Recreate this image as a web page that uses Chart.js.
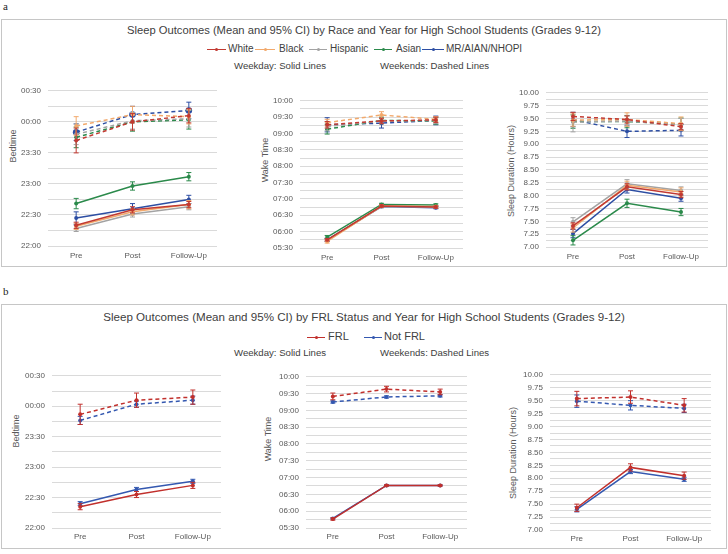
<!DOCTYPE html>
<html>
<head>
<meta charset="utf-8">
<script src="https://cdn.jsdelivr.net/npm/chart.js@4.4.0/dist/chart.umd.min.js"></script>
<style>
body { margin: 0; width: 728px; height: 554px; background: #fff; position: relative; overflow: hidden;
       font-family: "Liberation Sans", Arial, sans-serif; }
.box { position: absolute; border: 1.5px solid #c6c6c6; box-sizing: border-box; }
.t { position: absolute; white-space: nowrap; color: #404040; line-height: 1.2; }
.yt { position: absolute; white-space: nowrap; font-size: 9px; color: #595959; line-height: 1.2;
      transform: translate(-50%, -50%) rotate(-90deg); }
.lm { position: absolute; height: 1px; background: currentColor; }
.lm i { position: absolute; left: 50%; top: -1px; width: 3px; height: 3px; margin-left: -1.5px;
        background: currentColor; border-radius: 50%; }
canvas { position: absolute; }
</style>
</head>
<body>
<div class="t" style="left:3px;top:0px;font-family:'Liberation Serif',serif;font-size:11px;color:#222">a</div>
<div class="box" style="left:1px;top:19px;width:726px;height:248px"></div>
<div class="t" style="left:0;width:728px;text-align:center;top:24px;font-size:11.2px">Sleep Outcomes (Mean and 95% CI) by Race and Year for High School Students (Grades 9-12)</div>
<div id="legendA"></div>
<div class="t" style="left:234px;top:60px;font-size:9.6px">Weekday: Solid Lines</div>
<div class="t" style="left:380px;top:60px;font-size:9.6px">Weekends: Dashed Lines</div>
<div class="yt" style="left:13px;top:146px">Bedtime</div>
<div class="yt" style="left:265px;top:160px">Wake Time</div>
<div class="yt" style="left:511px;top:171px">Sleep Duration (Hours)</div>

<div class="t" style="left:3px;top:285px;font-family:'Liberation Serif',serif;font-size:11px;color:#222">b</div>
<div class="box" style="left:1px;top:304px;width:726px;height:245px"></div>
<div class="t" style="left:0;width:728px;text-align:center;top:310px;font-size:11.6px">Sleep Outcomes (Mean and 95% CI) by FRL Status and Year for High School Students (Grades 9-12)</div>
<div id="legendB"></div>
<div class="t" style="left:234px;top:347px;font-size:9.6px">Weekday: Solid Lines</div>
<div class="t" style="left:380px;top:347px;font-size:9.6px">Weekends: Dashed Lines</div>
<div class="yt" style="left:16px;top:431px">Bedtime</div>
<div class="yt" style="left:268px;top:439px">Wake Time</div>
<div class="yt" style="left:513px;top:453px">Sleep Duration (Hours)</div>

<script>
const categories = ['Pre', 'Post', 'Follow-Up'];
const raceGroups = ['White', 'Black', 'Hispanic', 'Asian', 'MR/AIAN/NHOPI'];
const frlGroups = ['FRL', 'Not FRL'];

// y-axis ranges (tick labels every 30 min / 0.25 h, grid every 15 min / 0.125 h)
const bedRange = ['22:00', '00:30'];
const wakeRange = ['05:30', '10:00'];
const sleepRange = [7, 10];

// Panel a: by race (rows follow raceGroups), CI = +/- half width
const bedWeekdayRace = [
  ['22:20', '22:35', '22:40'],
  ['22:19', '22:33', '22:40'],
  ['22:17', '22:31', '22:38'],
  ['22:41', '22:58', '23:07'],
  ['22:27', '22:36', '22:45']
];
const bedWeekdayRaceCI = [[3, 3, 3], [3, 3, 4], [3, 3, 3], [5, 4, 4], [6, 5, 4]];
const bedWeekendRace = [
  ['23:42', '00:00', '00:06'],
  ['23:56', '00:07', '00:05'],
  ['23:48', '00:01', '00:03'],
  ['23:45', '00:00', '00:02'],
  ['23:50', '00:07', '00:11']
];
const bedWeekendRaceCI = [[12, 8, 7], [9, 8, 7], [10, 8, 8], [10, 9, 9], [8, 8, 8]];

const wakeWeekdayRace = [
  ['05:45', '06:47', '06:45'],
  ['05:42', '06:47', '06:46'],
  ['05:44', '06:46', '06:45'],
  ['05:50', '06:50', '06:49'],
  ['05:45', '06:46', '06:44']
];
const wakeWeekdayRaceCI = [[2, 2, 2], [3, 2, 2], [2, 2, 2], [3, 2, 2], [3, 2, 2]];
const wakeWeekendRace = [
  ['09:16', '09:23', '09:25'],
  ['09:20', '09:34', '09:26'],
  ['09:13', '09:23', '09:24'],
  ['09:08', '09:24', '09:23'],
  ['09:16', '09:19', '09:24']
];
const wakeWeekendRaceCI = [[6, 5, 5], [6, 6, 5], [8, 5, 6], [9, 6, 6], [13, 9, 8]];

const sleepWeekdayRace = [[7.41, 8.17, 8.02], [7.37, 8.20, 8.07], [7.49, 8.23, 8.10], [7.13, 7.85, 7.68], [7.26, 8.12, 7.95]];
const sleepWeekdayRaceCI = [[0.06, 0.06, 0.06], [0.08, 0.08, 0.08], [0.08, 0.08, 0.07], [0.09, 0.08, 0.07], [0.08, 0.07, 0.06]];
const sleepWeekendRace = [[9.54, 9.48, 9.34], [9.47, 9.48, 9.40], [9.43, 9.45, 9.38], [9.44, 9.44, 9.39], [9.48, 9.25, 9.27]];
const sleepWeekendRaceCI = [[0.08, 0.07, 0.06], [0.12, 0.13, 0.13], [0.19, 0.10, 0.12], [0.13, 0.12, 0.12], [0.14, 0.12, 0.11]];

// Panel b: by FRL status (rows follow frlGroups)
const bedWeekdayFrl = [['22:21', '22:33', '22:42'], ['22:24', '22:38', '22:46']];
const bedWeekdayFrlCI = [[3, 3, 3], [2, 2, 2]];
const bedWeekendFrl = [['23:52', '00:06', '00:09'], ['23:46', '00:02', '00:06']];
const bedWeekendFrlCI = [[10, 7, 7], [4, 3, 4]];
const wakeWeekdayFrl = [['05:46', '06:46', '06:46'], ['05:47', '06:46', '06:46']];
const wakeWeekdayFrlCI = [[2, 1, 1], [1, 1, 1]];
const wakeWeekendFrl = [['09:25', '09:38', '09:33'], ['09:15', '09:24', '09:26']];
const wakeWeekendFrlCI = [[6, 5, 5], [2, 2, 2]];
const sleepWeekdayFrl = [[7.43, 8.21, 8.05], [7.40, 8.13, 7.98]];
const sleepWeekdayFrlCI = [[0.07, 0.07, 0.07], [0.05, 0.04, 0.04]];
const sleepWeekendFrl = [[9.54, 9.57, 9.41], [9.49, 9.41, 9.35]];
const sleepWeekendFrlCI = [[0.14, 0.12, 0.13], [0.12, 0.09, 0.08]];

const raceColors = ['#c23a32', '#f2a96c', '#a3a3a3', '#2b8a4b', '#2d4ea3'];
const frlColors = ['#c1302c', '#3458b0'];

Chart.defaults.font.family = '"Liberation Sans", Arial, sans-serif';

// times after noon stay as-is, early-morning bedtimes roll past midnight
function toMin(s, wrap) {
  const [h, m] = s.split(':').map(Number);
  let v = h * 60 + m;
  if (wrap && v < 720) v += 1440;
  return v;
}
function fmtTime(v) {
  if (v % 30 !== 0) return '';
  v = v % 1440;
  return String(Math.floor(v / 60)).padStart(2, '0') + ':' + String(v % 60).padStart(2, '0');
}
function fmtHours(v) {
  return Math.abs(v * 4 - Math.round(v * 4)) < 1e-6 ? v.toFixed(2) : '';
}

// 95% CI whiskers, drawn through the y scale of each chart
const errorBars = {
  id: 'errorBars',
  afterDatasetDraw(chart, args) {
    const ds = chart.data.datasets[args.index];
    if (!ds.err) return;
    const ctx = chart.ctx, ys = chart.scales.y;
    ctx.save();
    ctx.strokeStyle = ds.borderColor;
    ctx.lineWidth = 1;
    args.meta.data.forEach((pt, j) => {
      const hi = ys.getPixelForValue(ds.data[j] + ds.err[j]);
      const lo = ys.getPixelForValue(ds.data[j] - ds.err[j]);
      ctx.beginPath();
      ctx.moveTo(pt.x, hi); ctx.lineTo(pt.x, lo);
      ctx.moveTo(pt.x - 2.5, hi); ctx.lineTo(pt.x + 2.5, hi);
      ctx.moveTo(pt.x - 2.5, lo); ctx.lineTo(pt.x + 2.5, lo);
      ctx.stroke();
    });
    ctx.restore();
  }
};

function line(label, color, data, err, dashed, radius) {
  return {
    label, data, err,
    borderColor: color, backgroundColor: color, pointBackgroundColor: color,
    borderWidth: 1.5, borderDash: dashed ? [4, 3] : [],
    pointRadius: radius || 2, pointBorderWidth: 0, tension: 0
  };
}

function timeSeries(groups, colors, weekday, weekdayCI, weekend, weekendCI, wrap, bigLast) {
  const out = [];
  groups.forEach((g, i) => out.push(line(g, colors[i], weekday[i].map(s => toMin(s, wrap)), weekdayCI[i], false)));
  groups.forEach((g, i) => out.push(line(g, colors[i], weekend[i].map(s => toMin(s, wrap)), weekendCI[i], true,
    bigLast && i === groups.length - 1 ? 3.3 : 2)));
  return out;
}
function hourSeries(groups, colors, weekday, weekdayCI, weekend, weekendCI) {
  const out = [];
  groups.forEach((g, i) => out.push(line(g, colors[i], weekday[i], weekdayCI[i], false)));
  groups.forEach((g, i) => out.push(line(g, colors[i], weekend[i], weekendCI[i], true)));
  return out;
}

function panel(rect, axis, datasets) {
  const Wy = 40, padTop = 6, padRight = 4, Hx = 22;
  const c = document.createElement('canvas');
  c.width = rect.r - rect.l + Wy + padRight;
  c.height = rect.b - rect.t + padTop + Hx;
  c.style.left = (rect.l - Wy) + 'px';
  c.style.top = (rect.t - padTop) + 'px';
  document.body.appendChild(c);
  new Chart(c, {
    type: 'line',
    data: { labels: categories, datasets },
    options: {
      responsive: false,
      animation: false,
      layout: { padding: { top: padTop, right: padRight, left: 0, bottom: 0 } },
      plugins: { legend: { display: false }, tooltip: { enabled: false } },
      scales: {
        x: {
          offset: true,
          grid: { display: false, drawTicks: false },
          border: { display: false },
          ticks: { color: '#595959', font: { size: 8 }, padding: rect.xPad },
          afterFit: s => { s.height = Hx; }
        },
        y: {
          min: axis.min, max: axis.max,
          grid: { color: '#dadada', drawTicks: false },
          border: { display: false },
          ticks: { stepSize: axis.step, autoSkip: false, color: '#595959', font: { size: 8 }, padding: 7,
                   callback: axis.fmt },
          afterFit: s => { s.width = Wy; }
        }
      }
    },
    plugins: [errorBars]
  });
}

const bedAxis = { min: toMin(bedRange[0], true), max: toMin(bedRange[1], true), step: 15, fmt: fmtTime };
const wakeAxis = { min: toMin(wakeRange[0]), max: toMin(wakeRange[1]), step: 15, fmt: fmtTime };
const sleepAxis = { min: sleepRange[0], max: sleepRange[1], step: 0.125, fmt: fmtHours };

// panel a
panel({ l: 48, r: 217, t: 85, b: 246, xPad: 5 }, bedAxis,
  timeSeries(raceGroups, raceColors, bedWeekdayRace, bedWeekdayRaceCI, bedWeekendRace, bedWeekendRaceCI, true, true));
panel({ l: 300, r: 463, t: 95, b: 248, xPad: 5 }, wakeAxis,
  timeSeries(raceGroups, raceColors, wakeWeekdayRace, wakeWeekdayRaceCI, wakeWeekendRace, wakeWeekendRaceCI, false));
panel({ l: 546, r: 708, t: 87, b: 247, xPad: 5 }, sleepAxis,
  hourSeries(raceGroups, raceColors, sleepWeekdayRace, sleepWeekdayRaceCI, sleepWeekendRace, sleepWeekendRaceCI));

// panel b
panel({ l: 52, r: 221, t: 370, b: 528, xPad: 4 }, bedAxis,
  timeSeries(frlGroups, frlColors, bedWeekdayFrl, bedWeekdayFrlCI, bedWeekendFrl, bedWeekendFrlCI, true));
panel({ l: 306, r: 467, t: 371, b: 528, xPad: 4 }, wakeAxis,
  timeSeries(frlGroups, frlColors, wakeWeekdayFrl, wakeWeekdayFrlCI, wakeWeekendFrl, wakeWeekendFrlCI, false));
panel({ l: 550, r: 711, t: 369, b: 530, xPad: 4 }, sleepAxis,
  hourSeries(frlGroups, frlColors, sleepWeekdayFrl, sleepWeekdayFrlCI, sleepWeekendFrl, sleepWeekendFrlCI));

// legends: line-with-marker swatch followed by the group name
function legend(id, groups, colors, y, items, size) {
  const host = document.getElementById(id);
  groups.forEach((g, i) => {
    const [x0, x1, tx] = items[i];
    const m = document.createElement('span');
    m.className = 'lm';
    m.style.cssText = `left:${x0}px;width:${x1 - x0}px;top:${y}px;color:${colors[i]}`;
    m.appendChild(document.createElement('i'));
    host.appendChild(m);
    const t = document.createElement('div');
    t.className = 't';
    t.textContent = g;
    t.style.cssText = `left:${tx}px;top:${y - size * 0.6}px;font-size:${size}px`;
    host.appendChild(t);
  });
}
legend('legendA', raceGroups, raceColors, 49,
  [[207, 226, 228], [255, 275, 279], [309, 327, 330], [374, 392, 396], [422, 444, 446]], 10);
legend('legendB', frlGroups, frlColors, 337, [[307, 325, 328], [364, 382, 384]], 11);
</script>
</body>
</html>
